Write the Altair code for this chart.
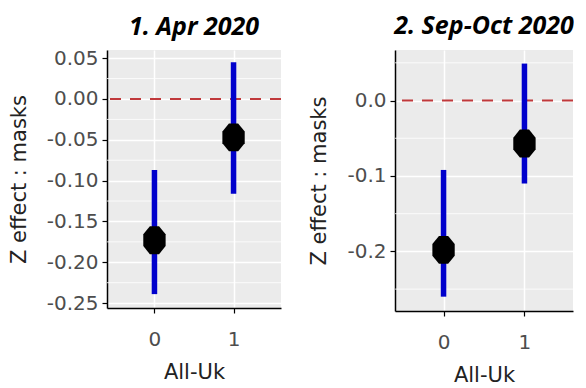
import altair as alt
import pandas as pd

# ---- data ----
groups = [0, 1]
p1_est = [-0.173, -0.047]
p1_lo = [-0.239, -0.116]
p1_hi = [-0.087, 0.045]
p2_est = [-0.198, -0.057]
p2_lo = [-0.260, -0.110]
p2_hi = [-0.092, 0.049]

p1_title = "1. Apr 2020"
p2_title = "2. Sep-Oct 2020"
p1_ticks = [0.05, 0.0, -0.05, -0.10, -0.15, -0.20, -0.25]
p1_minor = [0.025, -0.025, -0.075, -0.125, -0.175, -0.225]
p2_ticks = [0.0, -0.1, -0.2]
p2_minor = [0.05, -0.05, -0.15, -0.25]
p1_domain = [-0.256, 0.060]
p2_domain = [-0.279, 0.067]

FONT = "DejaVu Sans"
OCT = ("M0.33,-1L0.8,-0.42L0.8,0.42L0.33,1L-0.33,1L-0.8,0.42L-0.8,-0.42L-0.33,-1Z")
MINUS_FIX = "replace(datum.label, '\u2212', '-')"


def panel(est, lo, hi, ticks, minor, domain, title, fmt, w, h, toff):
    df = pd.DataFrame({"g": groups, "est": est, "lo": lo, "hi": hi})
    mdf = pd.DataFrame({"v": minor})
    zdf = pd.DataFrame({"v": [0.0]})
    xs = alt.Scale(domain=[-0.6, 1.6], nice=False, zero=False)
    ys = alt.Scale(domain=domain, nice=False, zero=False)
    xax = alt.Axis(values=groups, format="d", title="All-Uk", grid=True)
    yax = alt.Axis(values=ticks, format=fmt, title="Z effect : masks", grid=True,
                   labelExpr=MINUS_FIX)

    base = alt.Chart(df)
    minor_l = alt.Chart(mdf).mark_rule(color="white", strokeWidth=0.8).encode(
        y=alt.Y("v:Q", scale=ys, axis=yax)
    )
    zero_l = alt.Chart(zdf).mark_rule(
        color="#C0393B", strokeWidth=2, strokeDash=[11, 9]
    ).encode(y=alt.Y("v:Q", scale=ys))
    ci = base.mark_rule(color="#0000CC", strokeWidth=5.5).encode(
        x=alt.X("g:Q", scale=xs, axis=xax),
        y=alt.Y("lo:Q", scale=ys),
        y2="hi:Q",
    )
    pts = base.mark_point(shape=OCT, filled=True, color="black", opacity=1, size=780).encode(
        x=alt.X("g:Q", scale=xs),
        y=alt.Y("est:Q", scale=ys),
    )
    return alt.layer(minor_l, zero_l, ci, pts).properties(
        width=w, height=h,
        title=alt.TitleParams(title, offset=toff),
    )


c1 = panel(p1_est, p1_lo, p1_hi, p1_ticks, p1_minor, p1_domain, p1_title, ".2f", 174, 258, 8)
c2 = panel(p2_est, p2_lo, p2_hi, p2_ticks, p2_minor, p2_domain, p2_title, ".1f", 178, 261, 11)

chart = alt.hconcat(c1, c2, spacing=26).properties(
    padding={"top": 6, "left": 0, "right": 0, "bottom": 0}
).configure_view(
    fill="#EBEBEB", stroke=None
).configure_title(
    font="Open Sans", fontSize=25, fontStyle="italic", fontWeight="bold",
    color="black", anchor="middle"
).configure_axis(
    labelFont=FONT, labelFontSize=20, labelColor="#4D4D4D",
    titleFont=FONT, titleFontSize=21, titleFontWeight="normal", titleColor="#222222",
    domainColor="black", domainWidth=1.5, tickColor="black", tickSize=5, tickWidth=1.2,
    gridColor="white", gridWidth=1.5,
).configure_axisY(
    labelPadding=4, titlePadding=17,
).configure_axisX(
    labelPadding=16, titlePadding=12,
)

chart.save("out.html", embed_options={"renderer": "svg", "actions": False})
